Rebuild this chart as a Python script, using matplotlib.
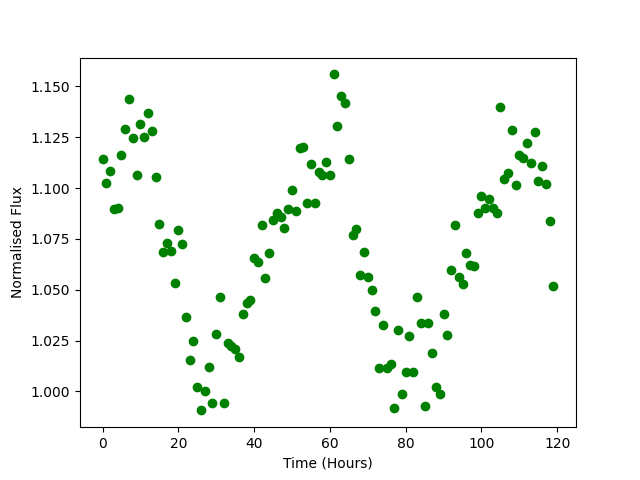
import matplotlib
matplotlib.use("Agg")
import matplotlib.pyplot as plt
import numpy as np

# hourly samples, 0..119
hours = np.arange(120)

flux = [
    1.1145, 1.1027, 1.1082, 1.0895, 1.0900, 1.1164, 1.1292, 1.1440, 1.1248, 1.1066,
    1.1317, 1.1253, 1.1371, 1.1282, 1.1056, 1.0825, 1.0687, 1.0731, 1.0692, 1.0531,
    1.0795, 1.0727, 1.0367, 1.0156, 1.0249, 1.0020, 0.9907, 1.0003, 1.0118, 0.9941,
    1.0284, 1.0466, 0.9941, 1.0236, 1.0226, 1.0210, 1.0172, 1.0382, 1.0434, 1.0451,
    1.0654, 1.0639, 1.0821, 1.0559, 1.0682, 1.0843, 1.0880, 1.0856, 1.0805, 1.0895,
    1.0989, 1.0887, 1.1199, 1.1202, 1.0926, 1.1120, 1.0926, 1.1081, 1.1064, 1.1126,
    1.1066, 1.1559, 1.1303, 1.1451, 1.1420, 1.1141, 1.0771, 1.0797, 1.0571, 1.0684,
    1.0564, 1.0497, 1.0394, 1.0117, 1.0325, 1.0117, 1.0133, 0.9920, 1.0303, 0.9989,
    1.0095, 1.0274, 1.0095, 1.0466, 1.0338, 0.9930, 1.0338, 1.0190, 1.0023, 0.9990,
    1.0382, 1.0279, 1.0599, 1.0821, 1.0564, 1.0530, 1.0682, 1.0621, 1.0618, 1.0879,
    1.0959, 1.0902, 1.0944, 1.0902, 1.0879, 1.1400, 1.1043, 1.1076, 1.1287, 1.1017,
    1.1164, 1.1150, 1.1223, 1.1125, 1.1277, 1.1036, 1.1108, 1.1022, 1.0840, 1.0520,
]

plt.figure(figsize=(6.4, 4.8), dpi=100)
plt.plot(hours, flux, 'o', color='green')
plt.xlabel("Time (Hours)")
plt.ylabel("Normalised Flux")
plt.savefig("out.png")
